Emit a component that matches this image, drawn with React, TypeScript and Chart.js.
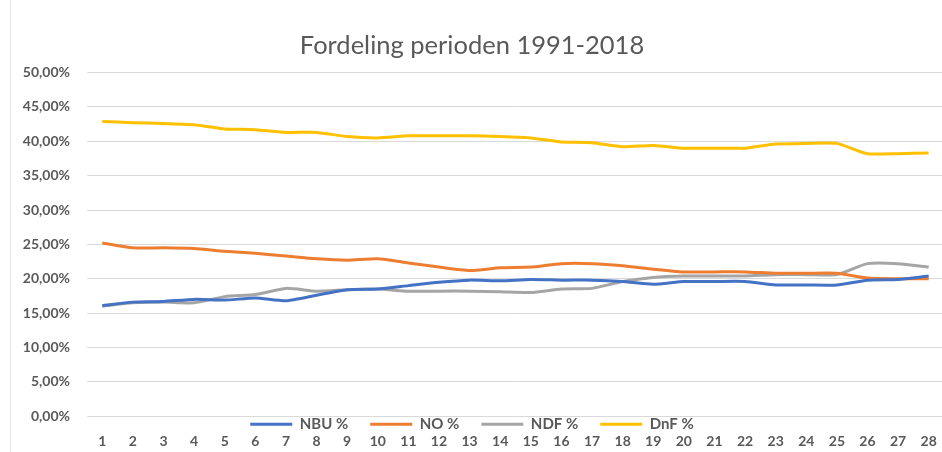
import React, { useEffect, useRef } from 'react';
import { Chart, registerables } from 'chart.js';

Chart.register(...registerables);

const categories = ['1', '2', '3', '4', '5', '6', '7', '8', '9', '10', '11', '12', '13', '14', '15', '16', '17', '18', '19', '20', '21', '22', '23', '24', '25', '26', '27', '28'];

const nbu = [16.1, 16.6, 16.7, 17.0, 16.9, 17.2, 16.8, 17.6, 18.4, 18.5, 19.0, 19.5, 19.8, 19.7, 19.9, 19.8, 19.8, 19.6, 19.2, 19.6, 19.6, 19.6, 19.1, 19.1, 19.1, 19.8, 19.9, 20.4];
const no = [25.2, 24.5, 24.5, 24.4, 24.0, 23.7, 23.3, 22.9, 22.7, 22.9, 22.3, 21.7, 21.2, 21.6, 21.7, 22.2, 22.2, 21.9, 21.4, 21.0, 21.0, 21.0, 20.8, 20.8, 20.8, 20.1, 20.0, 20.0];
const ndf = [16.0, 16.5, 16.6, 16.5, 17.4, 17.7, 18.6, 18.2, 18.4, 18.5, 18.2, 18.2, 18.2, 18.1, 18.0, 18.5, 18.6, 19.6, 20.2, 20.4, 20.4, 20.4, 20.6, 20.6, 20.6, 22.2, 22.2, 21.7];
const dnf = [42.9, 42.7, 42.6, 42.4, 41.8, 41.7, 41.3, 41.3, 40.7, 40.5, 40.8, 40.8, 40.8, 40.7, 40.5, 39.9, 39.8, 39.2, 39.4, 39.0, 39.0, 39.0, 39.6, 39.7, 39.7, 38.2, 38.2, 38.3];

const seriesLabels = ['NBU %', 'NO %', 'NDF %', 'DnF %'];
const seriesColors = ['#4472C4', '#ED7D31', '#A5A5A5', '#FFC000'];
const title = 'Fordeling perioden 1991-2018';

const FONT = 'Lato';
const TEXT = '#595959';
const LEGEND_FS = 15;

const legendShift = {
  id: 'legendShift',
  beforeDraw(chart: any) {
    const lg = chart.legend;
    if (!lg) return;
    const pad = lg.options.labels.padding;
    const h = LEGEND_FS + pad + 10;
    const top = chart.chartArea.bottom + 8 - pad - LEGEND_FS / 2;
    lg.top = top;
    lg.bottom = top + h;
    lg.height = h;
  },
};

export default function App() {
  const ref = useRef<HTMLCanvasElement | null>(null);

  useEffect(() => {
    if (!ref.current) return;
    const all = [nbu, no, ndf, dnf];
    const chart = new Chart(ref.current, {
      type: 'line',
      data: {
        labels: categories,
        datasets: all.map((d, i) => ({
          label: seriesLabels[i],
          data: d,
          borderColor: seriesColors[i],
          backgroundColor: seriesColors[i],
          borderWidth: 3,
          pointRadius: 0,
          tension: 0.2,
          fill: false,
        })),
      },
      options: {
        responsive: false,
        animation: false,
        layout: { padding: { left: 0, right: 18, top: 0, bottom: 0 } },
        plugins: {
          title: {
            display: true,
            text: title,
            color: TEXT,
            font: { family: FONT, size: 25.5, weight: 'normal' },
            padding: { top: 30, bottom: 12 },
          },
          legend: {
            position: 'bottom',
            maxHeight: 15,
            labels: {
              usePointStyle: true,
              pointStyle: 'line',
              pointStyleWidth: 42,
              padding: 22,
              color: TEXT,
              font: { family: FONT, size: LEGEND_FS, weight: 'bold' },
            },
          },
          tooltip: { enabled: false },
        },
        scales: {
          x: {
            weight: 1500,
            offset: true,
            grid: { display: false, drawTicks: false },
            border: { display: false },
            ticks: {
              padding: 2,
              color: TEXT,
              font: { family: FONT, size: 14, weight: 'bold' },
              maxRotation: 0,
              autoSkip: false,
            },
          },
          y: {
            min: 0,
            max: 50,
            afterFit: (scale: any) => {
              scale.width = 87;
            },
            grid: { color: '#d9d9d9', drawTicks: false },
            border: { display: false },
            ticks: {
              stepSize: 5,
              padding: 17,
              color: TEXT,
              font: { family: FONT, size: 14, weight: 'bold' },
              callback: (v: any) => Number(v).toFixed(2).replace('.', ',') + '%',
            },
          },
        },
      },
      plugins: [legendShift],
    });
    return () => chart.destroy();
  }, []);

  return (
    <div style={{ position: 'fixed', left: 0, top: 0, width: 942, height: 452, overflow: 'hidden', background: '#fff' }}>
      <canvas ref={ref} width={962} height={452} style={{ display: 'block' }} />
      <div style={{ position: 'absolute', left: 10, top: 0, width: 1, height: 452, background: '#e6e6e6' }} />
    </div>
  );
}
